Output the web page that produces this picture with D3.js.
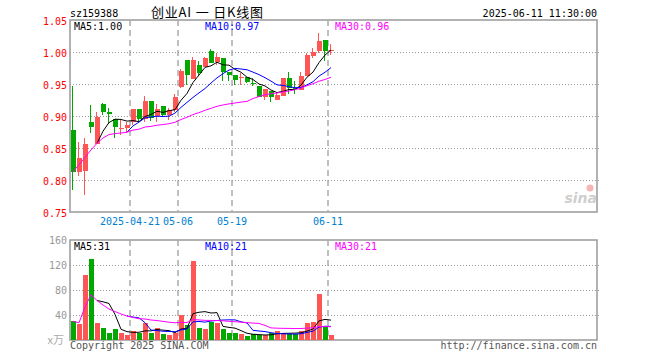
<!DOCTYPE html>
<html>
<head>
<meta charset="utf-8">
<script src="https://cdn.jsdelivr.net/npm/d3@7"></script>
<style>
  body { margin: 0; background: #fff; }
  text { font-family: "DejaVu Sans Mono", monospace; font-size: 10px; }
</style>
</head>
<body>
<div id="chart"></div>
<script>
// daily candles, 2025-04-07 .. 2025-06-11
const dates = [
  "2025-04-07", "2025-04-08", "2025-04-09", "2025-04-10", "2025-04-11",
  "2025-04-14", "2025-04-15", "2025-04-16", "2025-04-17", "2025-04-18",
  "2025-04-21", "2025-04-22", "2025-04-23", "2025-04-24", "2025-04-25",
  "2025-04-28", "2025-04-29", "2025-04-30", "2025-05-06", "2025-05-07",
  "2025-05-08", "2025-05-09", "2025-05-12", "2025-05-13", "2025-05-14",
  "2025-05-15", "2025-05-16", "2025-05-19", "2025-05-20", "2025-05-21",
  "2025-05-22", "2025-05-23", "2025-05-26", "2025-05-27", "2025-05-28",
  "2025-05-29", "2025-05-30", "2025-06-03", "2025-06-04", "2025-06-05",
  "2025-06-06", "2025-06-09", "2025-06-10", "2025-06-11"
];
const opens = [
  0.878, 0.813, 0.814, 0.890, 0.856, 0.919, 0.907, 0.896, 0.879, 0.881,
  0.890, 0.911, 0.895, 0.923, 0.900, 0.915, 0.902, 0.909, 0.946, 0.988,
  0.958, 0.980, 0.976, 1.002, 0.985, 0.990, 0.968, 0.964, 0.959, 0.961,
  0.951, 0.947, 0.930, 0.939, 0.925, 0.931, 0.960, 0.944, 0.940, 0.963,
  0.994, 1.002, 1.019, 1.001
];
const closes = [
  0.813, 0.835, 0.857, 0.883, 0.899, 0.907, 0.903, 0.883, 0.881, 0.886,
  0.911, 0.895, 0.923, 0.897, 0.911, 0.902, 0.909, 0.930, 0.971, 0.964,
  0.988, 0.967, 0.990, 0.983, 0.992, 0.968, 0.964, 0.957, 0.961, 0.953,
  0.950, 0.929, 0.942, 0.929, 0.933, 0.960, 0.943, 0.942, 0.963, 0.995,
  1.000, 1.017, 1.001, 1.003
];
const highs = [
  0.947, 0.859, 0.865, 0.917, 0.906, 0.921, 0.912, 0.896, 0.894, 0.891,
  0.911, 0.911, 0.931, 0.923, 0.919, 0.915, 0.912, 0.934, 0.974, 0.988,
  0.992, 0.986, 0.992, 1.005, 0.998, 0.990, 0.968, 0.964, 0.967, 0.961,
  0.959, 0.947, 0.942, 0.939, 0.938, 0.960, 0.969, 0.954, 0.968, 0.998,
  1.006, 1.029, 1.019, 1.013
];
const lows = [
  0.785, 0.806, 0.777, 0.874, 0.856, 0.902, 0.887, 0.866, 0.870, 0.874,
  0.886, 0.891, 0.891, 0.892, 0.891, 0.899, 0.894, 0.907, 0.943, 0.948,
  0.958, 0.963, 0.976, 0.983, 0.980, 0.955, 0.955, 0.948, 0.948, 0.951,
  0.947, 0.929, 0.925, 0.922, 0.925, 0.931, 0.935, 0.935, 0.940, 0.963,
  0.990, 0.998, 0.986, 0.996
];
// volume, 万
const volumes = [
  30, 25, 104, 130, 27, 20, 11, 17, 11, 8,
  14, 12, 28, 11, 19, 9, 8, 12, 40, 24,
  127, 19, 17, 29, 27, 17, 11, 11, 9, 6,
  9, 8, 8, 11, 14, 12, 9, 9, 14, 27,
  29, 74, 21, 8
];

const priceTicks = [1.05, 1.00, 0.95, 0.90, 0.85, 0.80, 0.75];
const volumeTicks = [160, 120, 80, 40];
const dateTicks = ["2025-04-21", "2025-05-06", "2025-05-19", "2025-06-11"];
const dateTickLabels = ["2025-04-21", "05-06", "05-19", "06-11"];
const priceMaLabels = ["MA5:1.00", "MA10:0.97", "MA30:0.96"];
const volumeMaLabels = ["MA5:31", "MA10:21", "MA30:21"];

const red = "#ff5555", green = "#00a800";
const maColors = ["#000000", "#0000ff", "#ff00ff"];

const width = 660, height = 360;
const left = 70, right = 597;

const svg = d3.select("#chart").append("svg")
  .attr("width", width)
  .attr("height", height);

// 6px per trading day, room for ~88 days
const x = d3.scaleLinear().domain([0, 88]).range([left, left + 6 * 88]);
const yPrice = d3.scaleLinear().domain([0.75, 1.05]).range([212, 20]);
const yVol = d3.scaleLinear().domain([0, 160]).range([340, 240]);

// MA5/MA10 start once enough days; MA30 uses what is there
function movingAverage(values, n, expanding) {
  return values.map((v, i) => {
    if (i < n - 1) return expanding ? d3.mean(values.slice(0, i + 1)) : null;
    return d3.mean(values.slice(i - n + 1, i + 1));
  });
}

// header
svg.append("text").attr("x", 70).attr("y", 17).text("sz159388");
svg.append("text").attr("x", 151).attr("y", 17)
  .attr("xml:space", "preserve")
  .attr("textLength", 112).attr("lengthAdjust", "spacing")
  .style("font-family", "'Noto Sans CJK SC'").style("font-size", "13px")
  .style("white-space", "pre")
  .text("创业AI 一 日K线图");
svg.append("text").attr("x", 597).attr("y", 17).attr("text-anchor", "end")
  .text("2025-06-11 11:30:00");

function panel(y0, y1) {
  const g = svg.append("g");
  g.append("rect")
    .attr("x", left).attr("y", y0)
    .attr("width", right - left).attr("height", y1 - y0)
    .attr("fill", "none").attr("stroke", "#999").attr("stroke-width", 1.5);
  g.selectAll("line.v")
    .data(dateTicks)
    .enter().append("line")
    .attr("x1", d => x(dates.indexOf(d)))
    .attr("x2", d => x(dates.indexOf(d)))
    .attr("y1", y0).attr("y2", y1)
    .attr("stroke", "#aaa").attr("stroke-width", 1.5)
    .attr("stroke-dasharray", "6,4");
  return g;
}

// ---- price panel
const pg = panel(20, 212);
pg.selectAll("line.h")
  .data(priceTicks.slice(1, -1))
  .enter().append("line")
  .attr("x1", left).attr("x2", right + 2)
  .attr("y1", d => Math.round(yPrice(d)) + 0.5)
  .attr("y2", d => Math.round(yPrice(d)) + 0.5)
  .attr("stroke", "#999").attr("stroke-dasharray", "1,2");

svg.selectAll("text.pt")
  .data(priceTicks)
  .enter().append("text")
  .attr("x", 67).attr("y", d => yPrice(d) + 4.5)
  .attr("text-anchor", "end").attr("fill", "#ff0000")
  .text(d => d.toFixed(2));

svg.selectAll("text.dt")
  .data(dateTicks)
  .enter().append("text")
  .attr("x", d => x(dates.indexOf(d)))
  .attr("y", 225)
  .attr("text-anchor", "middle").attr("fill", "#0080d0")
  .text((d, i) => dateTickLabels[i]);

// watermark
svg.append("text").attr("x", 597).attr("y", 203).attr("text-anchor", "end")
  .style("font-family", "'DejaVu Sans'").style("font-size", "14px")
  .style("font-style", "italic").style("font-weight", "bold")
  .attr("fill", "#cfcfcf").text("sina");
svg.append("circle").attr("cx", 590).attr("cy", 188).attr("r", 3.5)
  .attr("fill", "#f5b5b5");

const candles = svg.append("g").attr("shape-rendering", "crispEdges");
const idx = d3.range(dates.length);
const col = i => closes[i] >= opens[i] ? red : green;

candles.selectAll("line.wick")
  .data(idx)
  .enter().append("line")
  .attr("x1", i => x(i) + 2.5).attr("x2", i => x(i) + 2.5)
  .attr("y1", i => yPrice(highs[i])).attr("y2", i => yPrice(lows[i]))
  .attr("stroke", col);

candles.selectAll("rect.body")
  .data(idx)
  .enter().append("rect")
  .attr("x", i => x(i) + 0.5)
  .attr("width", 5)
  .attr("y", i => yPrice(Math.max(opens[i], closes[i])))
  .attr("height", i => Math.max(1, Math.abs(yPrice(opens[i]) - yPrice(closes[i]))))
  .attr("fill", col);

const priceMa = [movingAverage(closes, 5), movingAverage(closes, 10), movingAverage(closes, 30, true)];
const priceLine = d3.line()
  .defined(d => d != null)
  .x((d, i) => x(i) + 3)
  .y(d => yPrice(d));

svg.selectAll("path.pma")
  .data(priceMa)
  .enter().append("path")
  .attr("d", priceLine)
  .attr("fill", "none")
  .attr("stroke", (d, i) => maColors[i]);

const labelX = [74, 205, 335];
svg.selectAll("text.pma")
  .data(priceMaLabels)
  .enter().append("text")
  .attr("x", (d, i) => labelX[i]).attr("y", 29.5)
  .attr("fill", (d, i) => maColors[i])
  .text(d => d);

// ---- volume panel
const vg = panel(240, 340);
vg.selectAll("line.h")
  .data(volumeTicks.slice(1))
  .enter().append("line")
  .attr("x1", left).attr("x2", right + 2)
  .attr("y1", d => Math.round(yVol(d)) + 0.5)
  .attr("y2", d => Math.round(yVol(d)) + 0.5)
  .attr("stroke", "#999").attr("stroke-dasharray", "1,2");

svg.selectAll("text.vt")
  .data(volumeTicks)
  .enter().append("text")
  .attr("x", 67).attr("y", d => yVol(d) + 3.5)
  .attr("text-anchor", "end").attr("fill", "#999")
  .text(d => d);

svg.append("text").attr("x", 64).attr("y", 344).attr("text-anchor", "end")
  .style("font-family", "'Noto Sans CJK SC'").style("font-size", "11px")
  .attr("fill", "#aaa").text("x万");

svg.append("g").attr("shape-rendering", "crispEdges")
  .selectAll("rect")
  .data(idx)
  .enter().append("rect")
  .attr("x", i => x(i) + 0.5)
  .attr("width", 5)
  .attr("y", i => yVol(volumes[i]))
  .attr("height", i => yVol(0) - yVol(volumes[i]))
  .attr("fill", col);

const volMa = [movingAverage(volumes, 5), movingAverage(volumes, 10), movingAverage(volumes, 30, true)];
const volLine = d3.line()
  .defined(d => d != null)
  .x((d, i) => x(i) + 3)
  .y(d => yVol(d));

svg.selectAll("path.vma")
  .data(volMa)
  .enter().append("path")
  .attr("d", volLine)
  .attr("fill", "none")
  .attr("stroke", (d, i) => maColors[i]);

svg.selectAll("text.vma")
  .data(volumeMaLabels)
  .enter().append("text")
  .attr("x", (d, i) => labelX[i]).attr("y", 250)
  .attr("fill", (d, i) => maColors[i])
  .text(d => d);

// footer
svg.append("text").attr("x", 70).attr("y", 349).attr("fill", "#555")
  .text("Copyright 2025 SINA.COM");
svg.append("text").attr("x", 597).attr("y", 349).attr("text-anchor", "end")
  .attr("fill", "#555").text("http://finance.sina.com.cn");
</script>
</body>
</html>
